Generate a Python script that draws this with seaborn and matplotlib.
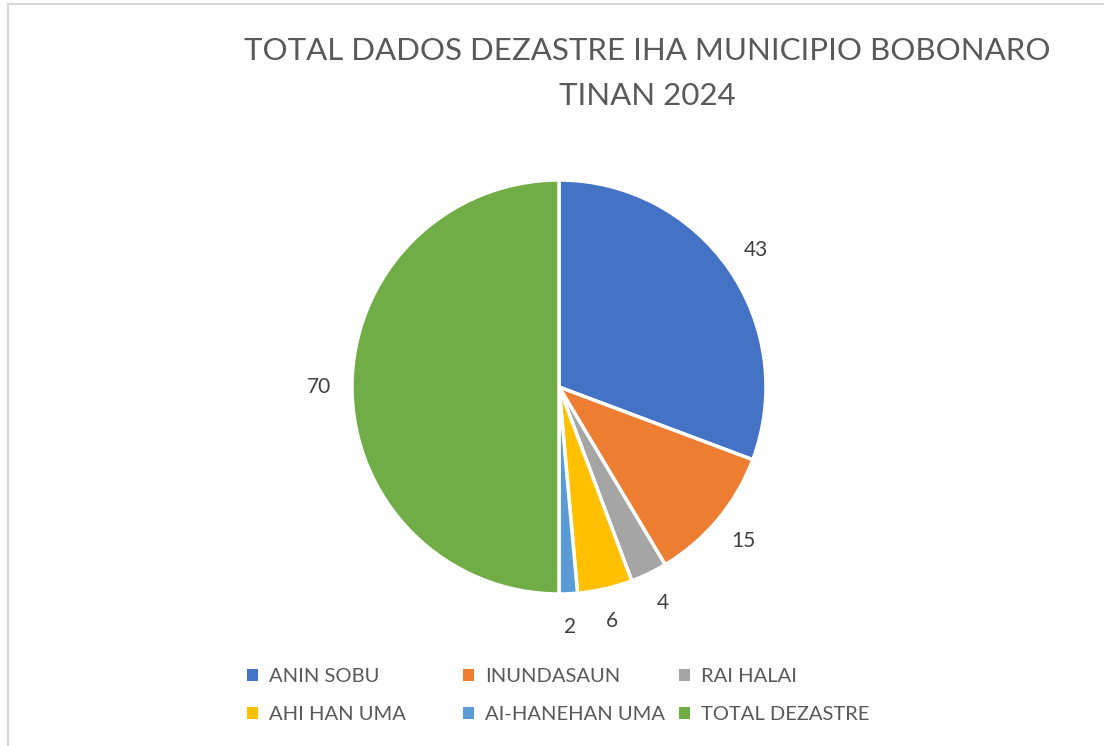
import matplotlib
matplotlib.use("Agg")
import matplotlib.pyplot as plt
from matplotlib.lines import Line2D
from matplotlib.patches import Patch
import seaborn as sns

# ---- data ----
categories = ["ANIN SOBU", "INUNDASAUN", "RAI HALAI", "AHI HAN UMA", "AI-HANEHAN UMA", "TOTAL DEZASTRE"]
values = [43, 15, 4, 6, 2, 70]
colors = ["#4472C4", "#ED7D31", "#A5A5A5", "#FFC000", "#5B9BD5", "#70AD47"]
title_text = "TOTAL DADOS DEZASTRE IHA MUNICIPIO BOBONARO\nTINAN 2024"

sns.set_theme(style="white")
plt.rcParams["font.family"] = ["Lato", "DejaVu Sans"]
palette = sns.color_palette(colors)

W, H = 1104, 746
fig = plt.figure(figsize=(W / 100, H / 100), dpi=100)
fig.patch.set_facecolor("white")

# frame lines (chart area border)
fig.add_artist(Line2D([7.5 / W, 1.0], [1 - 3.5 / H, 1 - 3.5 / H], color="#D9D9D9", lw=1.5,
                      transform=fig.transFigure))
fig.add_artist(Line2D([7.5 / W, 7.5 / W], [0.0, 1 - 3.5 / H], color="#D9D9D9", lw=1.5,
                      transform=fig.transFigure))

# pie axes
cx, cy, r = 559, 387, 207
ax = fig.add_axes([(cx - r) / W, (H - cy - r) / H, 2 * r / W, 2 * r / H])
wedges, texts = ax.pie(values, labels=[str(v) for v in values], colors=palette,
                       startangle=90, counterclock=False, labeldistance=1.16,
                       wedgeprops=dict(edgecolor="white", linewidth=2.5),
                       textprops=dict(fontsize=15, color="#404040"))
for t in texts:
    t.set_ha("center")
    t.set_va("center")
ax.set_xlim(-1, 1)
ax.set_ylim(-1, 1)
ax.set_aspect("equal")
ax.axis("off")

fig.text(647 / W, 1 - 37 / H, title_text, ha="center", va="top", fontsize=22.5,
         color="#595959", linespacing=1.72)

# legend: three columns of two rows
col_x = [247, 463, 679]
for i in range(3):
    handles = [Patch(facecolor=palette[i], edgecolor="none"),
               Patch(facecolor=palette[i + 3], edgecolor="none")]
    fig.legend(handles=handles, labels=[categories[i], categories[i + 3]],
               loc="upper left", bbox_to_anchor=(col_x[i] / W, 1 - 668 / H),
               frameon=False, fontsize=14.5, labelcolor="#595959",
               handlelength=0.55, handleheight=0.55, handletextpad=0.55,
               labelspacing=1.05, borderpad=0, borderaxespad=0)

fig.savefig("out.png", dpi=100, facecolor="white")
